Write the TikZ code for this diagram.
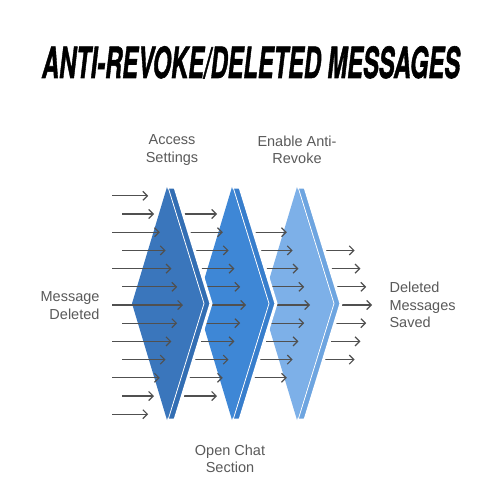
\documentclass[tikz,border=0pt]{standalone}
\usepackage{fontspec}
\setmainfont{Liberation Sans}
\newfontfamily\titlefont{TeX Gyre Heros}[FakeBold=1.5]
\usetikzlibrary{arrows.meta}
\definecolor{faceA}{HTML}{3A76BC}
\definecolor{sideA}{HTML}{336EB3}
\definecolor{faceB}{HTML}{3E87D6}
\definecolor{sideB}{HTML}{387ECC}
\definecolor{faceC}{HTML}{7DB0E8}
\definecolor{sideC}{HTML}{6EA5E0}
\definecolor{arrowgray}{HTML}{505050}
\definecolor{labelgray}{HTML}{5A5A5A}
% chevron: #1 top x, #2 face colour, #3 side colour
\newcommand{\chevron}[3]{%
  \filldraw[fill=#3,draw=white,line width=3pt] (#1,187) -- (#1+8,187) -- (#1+44,303.5)
    -- (#1+8,420) -- (#1,420) -- (#1-35,303.5) -- cycle;
  \fill[#2] (#1,187) -- (#1+36,303.5) -- (#1,420) -- (#1-35,303.5) -- cycle;
  \draw[white,line width=0.8pt] (#1+1,187) -- (#1+37,303.5) -- (#1+1,420);
}
% arrow rows: #1 rows each side, #2 tip x of centre row, #3 length
\newcommand{\flowrows}[3]{%
  \foreach \k in {-#1,...,#1} {
    \draw[flow] ({#2-5.8*abs(\k)-#3},{305+18.2*\k}) -- ++(#3,0);
  }
}

\begin{document}
\begin{tikzpicture}[x=1pt,y=-1pt,
  flow/.style={draw=arrowgray,line width=1.2pt,-{Straight Barb[length=4.5pt,width=9pt]}},
  lbl/.style={text=labelgray,font=\fontsize{14.5}{17.5}\selectfont}]
  \useasboundingbox[fill=white] (0,0) rectangle (500,500);
  \node[anchor=base] (title) at (251,78)
    {\scalebox{0.55}[1]{\titlefont\fontsize{43}{43}\selectfont\bfseries\itshape ANTI-REVOKE/DELETED MESSAGES}};
  % back to front
  \flowrows{3}{372}{40}
  \chevron{297}{faceC}{sideC}
  \flowrows{4}{310}{45}
  \chevron{232}{faceB}{sideB}
  \flowrows{5}{246}{45}
  \chevron{167}{faceA}{sideA}
  \foreach \k in {-6,...,6} {
    \draw[flow] ({112+10*mod(abs(\k),2)},{305+18.2*\k}) -- ({183-5.8*abs(\k)},{305+18.2*\k});
  }
  % labels
  \node[lbl,align=center] (access) at (172,150) {Access\\Settings};
  \node[lbl,align=center] (enable) at (297,150) {Enable Anti-\\Revoke};
  \node[lbl,align=center] (openchat) at (230,459) {Open Chat\\Section};
  \node[lbl,align=right,anchor=east] (msgdel) at (103,305.5) {Message\\Deleted};
  \node[lbl,align=left,anchor=west] (saved) at (386,305) {Deleted\\Messages\\Saved};
\end{tikzpicture}
\end{document}
